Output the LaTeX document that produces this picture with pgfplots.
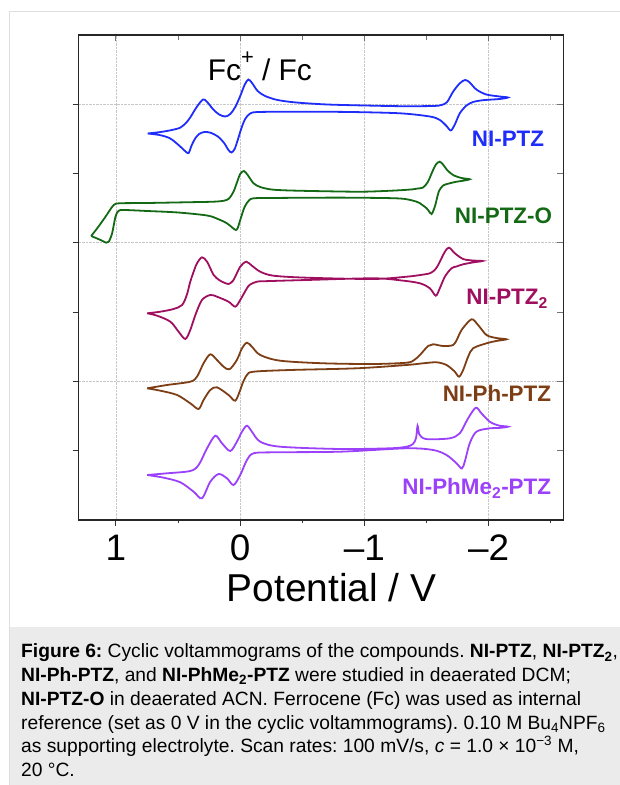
\documentclass[border=0pt]{standalone}
\usepackage{fontspec}
\setmainfont{Liberation Sans}
\usepackage{pgfplots}
\pgfplotsset{compat=1.18}

\definecolor{cblue}{RGB}{30,45,250}
\definecolor{cgreen}{RGB}{20,105,20}
\definecolor{cmag}{RGB}{160,15,95}
\definecolor{cbrown}{RGB}{125,62,22}
\definecolor{cpurple}{RGB}{155,65,250}
\definecolor{capgray}{RGB}{235,235,235}
\definecolor{framegray}{RGB}{222,222,222}

\begin{document}
\begin{tikzpicture}
\useasboundingbox (0,0) rectangle (620bp,785bp);
\fill[capgray] (9.3bp,0) rectangle (620bp,158.3bp);
\draw[framegray, line width=1bp] (9.3bp,-5bp) -- (9.3bp,773bp) -- (630bp,773bp);

\begin{axis}[
  at={(78.7bp,265bp)}, anchor=south west,
  width=484.6bp, height=485bp, scale only axis,
  xmin=-2.6, xmax=1.3, ymin=0, ymax=485,
  x dir=reverse,
  xtick={-2,-1,0,1}, xticklabels={–2,–1,0,1},
  minor xtick={-2.5,-1.5,-0.5,0.5},
  ytick={69.3,207.9,346.5}, yticklabels={},
  extra y ticks={138.6,277.2,415.8}, extra y tick labels={},
  extra y tick style={grid=major},
  xmajorgrids,
  grid style={densely dotted, color=black!22, line width=0.8bp},
  tick align=outside, xtick pos=left, ytick pos=left,
  major tick length=6bp, minor tick length=3bp,
  tick style={black!80, line width=1bp},
  axis line style={black!85, line width=1.2bp},
  xticklabel style={font=\fontsize{37}{40}\selectfont, anchor=base, yshift=-34bp},
  xlabel={Potential / V},
  x label style={font=\fontsize{39}{41}\selectfont, at={(axis description cs:0.522,0)}, anchor=base, yshift=-81.7bp},
]
% NI-PTZ
\addplot[cblue, line width=1.8bp, smooth, tension=0.5, no markers] coordinates {
(0.745,386.5) (0.64,388) (0.55,390) (0.48,392.5) (0.43,398) (0.40,403) (0.35,413)
(0.30,420.5) (0.27,418.5) (0.22,411) (0.17,405.5) (0.12,403.5) (0.08,406) (0.04,413)
(0.00,424) (-0.035,435) (-0.065,440.5) (-0.095,437) (-0.14,429) (-0.20,424) (-0.30,420)
(-0.45,417.5) (-0.70,415.5) (-1.00,414.5) (-1.30,413.8) (-1.55,414) (-1.62,415)
(-1.665,418) (-1.713,428.3) (-1.767,436.7) (-1.81,440) (-1.847,437.5) (-1.90,430.5)
(-1.98,425.5) (-2.088,423.5) (-2.155,422.5)
(-2.088,421) (-1.954,419.8) (-1.874,418) (-1.821,414.5) (-1.767,406.7) (-1.727,395.5)
(-1.695,389.5) (-1.66,394) (-1.606,400) (-1.526,403.5) (-1.285,406.7) (-0.884,408)
(-0.482,408.3) (-0.15,408) (-0.08,406.5) (-0.04,401) (-0.01,392) (0.02,380) (0.045,371)
(0.07,367.5) (0.095,370) (0.13,377) (0.18,383.5) (0.24,387.3) (0.29,388) (0.33,386)
(0.36,382) (0.39,375) (0.415,367) (0.44,368.5) (0.47,372) (0.52,377.5) (0.57,382)
(0.65,385) (0.745,386.5)
};
% NI-PTZ-O
\addplot[cgreen, line width=1.8bp, smooth, tension=0.5, no markers] coordinates {
(1.20,284) (1.151,291.7) (1.084,303.3) (1.018,315) (0.964,316.7) (0.75,317) (0.40,317.8)
(0.214,318.3) (0.13,319.3) (0.09,321.5) (0.054,328.3) (0.025,338) (0.00,346) (-0.03,349)
(-0.06,345) (-0.107,336.7) (-0.161,333) (-0.25,330.5) (-0.40,329.5) (-0.70,328.7)
(-0.99,328.3) (-1.25,329.5) (-1.392,330.7) (-1.43,331.5) (-1.472,332.5) (-1.51,338)
(-1.545,348) (-1.575,355.5) (-1.606,358.3) (-1.635,355) (-1.665,350) (-1.713,345)
(-1.78,342) (-1.847,340.7)
(-1.78,339) (-1.741,338.3) (-1.68,336.5) (-1.633,334.5) (-1.60,329) (-1.58,320)
(-1.566,313.3) (-1.54,306) (-1.515,309.5) (-1.50,311.7) (-1.46,315.5) (-1.419,318.3)
(-1.285,321.5) (-0.90,322.3) (-0.589,322.3) (-0.25,322) (-0.107,321.7) (-0.07,319.5)
(-0.035,313) (0,300) (0.02,292) (0.036,290) (0.06,292) (0.107,296.7) (0.18,301)
(0.267,304.5) (0.50,307.5) (0.749,309) (0.937,310) (0.98,309) (1.004,303.3)
(1.031,286.7) (1.058,278.3) (1.079,277.3) (1.124,280) (1.20,284)
};
% NI-PTZ2
\addplot[cmag, line width=1.8bp, smooth, tension=0.5, no markers] coordinates {
(0.749,206.7) (0.643,208.3) (0.536,211) (0.468,215) (0.43,225) (0.402,238.3) (0.37,250)
(0.348,256.7) (0.308,262.7) (0.267,258.3) (0.214,245) (0.17,240) (0.147,238.3)
(0.094,236) (0.06,239) (0.040,243.3) (0,253.3) (-0.048,258.3) (-0.094,254.3)
(-0.161,248.3) (-0.267,244.3) (-0.536,242.3) (-1.071,241) (-1.339,243.3) (-1.45,245)
(-1.526,246.7) (-1.565,250) (-1.593,255) (-1.647,268.3) (-1.681,272.3) (-1.727,266.7)
(-1.794,261) (-1.87,259.5) (-1.949,259)
(-1.87,257.5) (-1.794,255.7) (-1.74,253.5) (-1.700,251.7) (-1.647,243.3) (-1.606,231.7)
(-1.574,224.3) (-1.526,231.7) (-1.446,236.7) (-1.30,239.5) (-1.071,241.7) (-0.536,240)
(-0.20,238.8) (-0.134,238.3) (-0.08,235.5) (-0.054,231.7) (0,220) (0.040,213.3)
(0.094,218.3) (0.187,223.3) (0.241,225) (0.308,220) (0.361,205) (0.402,190) (0.442,181)
(0.496,188.3) (0.562,198.3) (0.669,204.3) (0.749,206.7)
};
% NI-Ph-PTZ
\addplot[cbrown, line width=1.8bp, smooth, tension=0.5, no markers] coordinates {
(0.749,131.7) (0.589,135) (0.402,138.3) (0.348,143.3) (0.295,156.7) (0.241,165.7)
(0.187,160) (0.134,153.3) (0.086,150.7) (0.027,160) (-0.014,171.7) (-0.054,177.3)
(-0.094,173.3) (-0.161,165) (-0.321,159.3) (-0.669,156.7) (-1.071,156) (-1.339,157.3)
(-1.40,160) (-1.446,165) (-1.512,174) (-1.553,175.7) (-1.633,174) (-1.713,175)
(-1.75,182) (-1.781,190) (-1.861,200.7) (-1.914,195) (-1.982,185) (-2.06,182) (-2.142,180.7)
(-2.06,179) (-1.982,176.7) (-1.874,171.7) (-1.834,163.3) (-1.794,150) (-1.761,143.3)
(-1.727,148.3) (-1.660,155) (-1.580,157.7) (-1.472,156.7) (-1.339,155) (-0.937,151.7)
(-0.402,150) (-0.107,148.3) (-0.054,145) (-0.02,137) (0,130) (0.040,119.3) (0.094,125)
(0.187,132.7) (0.241,130) (0.295,120) (0.335,111) (0.402,116.7) (0.508,125)
(0.643,129.3) (0.749,131.7)
};
% NI-PhMe2-PTZ
\addplot[cpurple, line width=1.8bp, smooth, tension=0.5, no markers] coordinates {
(0.749,45) (0.589,46.7) (0.402,49) (0.335,55) (0.267,71.7) (0.201,84.3) (0.147,76.7)
(0.080,69) (0.027,78.3) (-0.014,88.3) (-0.054,94.3) (-0.094,88.3) (-0.161,78.3)
(-0.321,73.3) (-0.803,71) (-1.205,71.7) (-1.339,73.3) (-1.39,76) (-1.415,82)
(-1.427,94.3) (-1.44,86) (-1.47,82) (-1.526,80.7) (-1.687,81.7) (-1.767,86.7)
(-1.834,101.7) (-1.896,112.3) (-1.941,106.7) (-2.008,98.3) (-2.08,94.5) (-2.155,93.3)
(-2.08,92) (-2.008,91.7) (-1.901,88.3) (-1.847,76.7) (-1.807,58.3) (-1.783,51.5)
(-1.741,56.7) (-1.660,65) (-1.553,70) (-1.339,71.7) (-0.803,68.3) (-0.267,67.7)
(-0.107,66.7) (-0.054,60) (0,45) (0.054,35) (0.107,41.7) (0.174,46) (0.241,38.3)
(0.308,21.7) (0.375,28.3) (0.482,37.7) (0.616,42.3) (0.749,45)
};
\node[anchor=base west, font=\fontsize{30}{32}\selectfont] at (axis cs:0.289,439.3) {Fc\raisebox{0.55em}{\fontsize{22}{24}\selectfont +} / Fc};
\node[anchor=base east, font=\fontsize{22.5}{24}\selectfont\bfseries, text=cblue] at (axis cs:-2.474,373.3) {NI-PTZ};
\node[anchor=base east, font=\fontsize{22.5}{24}\selectfont\bfseries, text=cgreen] at (axis cs:-2.538,296) {NI-PTZ-O};
\node[anchor=base east, font=\fontsize{22.5}{24}\selectfont\bfseries, text=cmag] at (axis cs:-2.504,215) {NI-PTZ\textsubscript{2}};
\node[anchor=base east, font=\fontsize{22.5}{24}\selectfont\bfseries, text=cbrown] at (axis cs:-2.530,118.3) {NI-Ph-PTZ};
\node[anchor=base east, font=\fontsize{22.5}{24}\selectfont\bfseries, text=cpurple] at (axis cs:-2.530,25) {NI-PhMe\textsubscript{2}-PTZ};
\end{axis}

\begin{axis}[
  at={(78.7bp,265bp)}, anchor=south west,
  width=484.6bp, height=485bp, scale only axis,
  xmin=-2.6, xmax=1.3, ymin=0, ymax=485,
  x dir=reverse,
  xtick={-2,-1,0,1}, minor xtick={-2.5,-1.5,-0.5,0.5},
  ytick={69.3,138.6,207.9,277.2,346.5,415.8},
  xticklabels={}, yticklabels={},
  tick align=inside, xtick pos=right, ytick pos=right,
  major tick length=6.5bp, minor tick length=5bp,
  tick style={black!55, line width=1bp},
  axis line style={black!85, line width=1.2bp},
]
\end{axis}

\begin{scope}[font=\fontsize{19.3}{22}\selectfont\frenchspacing]
\node[anchor=base west, inner sep=0] at (21bp,127bp) {\frenchspacing\textbf{Figure 6:} Cyclic voltammograms of the compounds. \textbf{NI-PTZ}, \textbf{NI-PTZ\textsubscript{2}},};
\node[anchor=base west, inner sep=0] at (21bp,103.3bp) {\frenchspacing\textbf{NI-Ph-PTZ}, and \textbf{NI-PhMe\textsubscript{2}-PTZ} were studied in deaerated DCM;};
\node[anchor=base west, inner sep=0] at (21bp,79.6bp) {\frenchspacing\textbf{NI-PTZ-O} in deaerated ACN. Ferrocene (Fc) was used as internal};
\node[anchor=base west, inner sep=0] at (21bp,55.9bp) {\frenchspacing reference (set as 0 V in the cyclic voltammograms). 0.10 M Bu\textsubscript{4}NPF\textsubscript{6}};
\node[anchor=base west, inner sep=0] at (21bp,32.2bp) {\frenchspacing as supporting electrolyte. Scan rates: 100 mV/s, \textit{c} = 1.0 × 10\textsuperscript{−3} M,};
\node[anchor=base west, inner sep=0] at (21bp,8.5bp) {20 °C.};
\end{scope}
\end{tikzpicture}
\end{document}
